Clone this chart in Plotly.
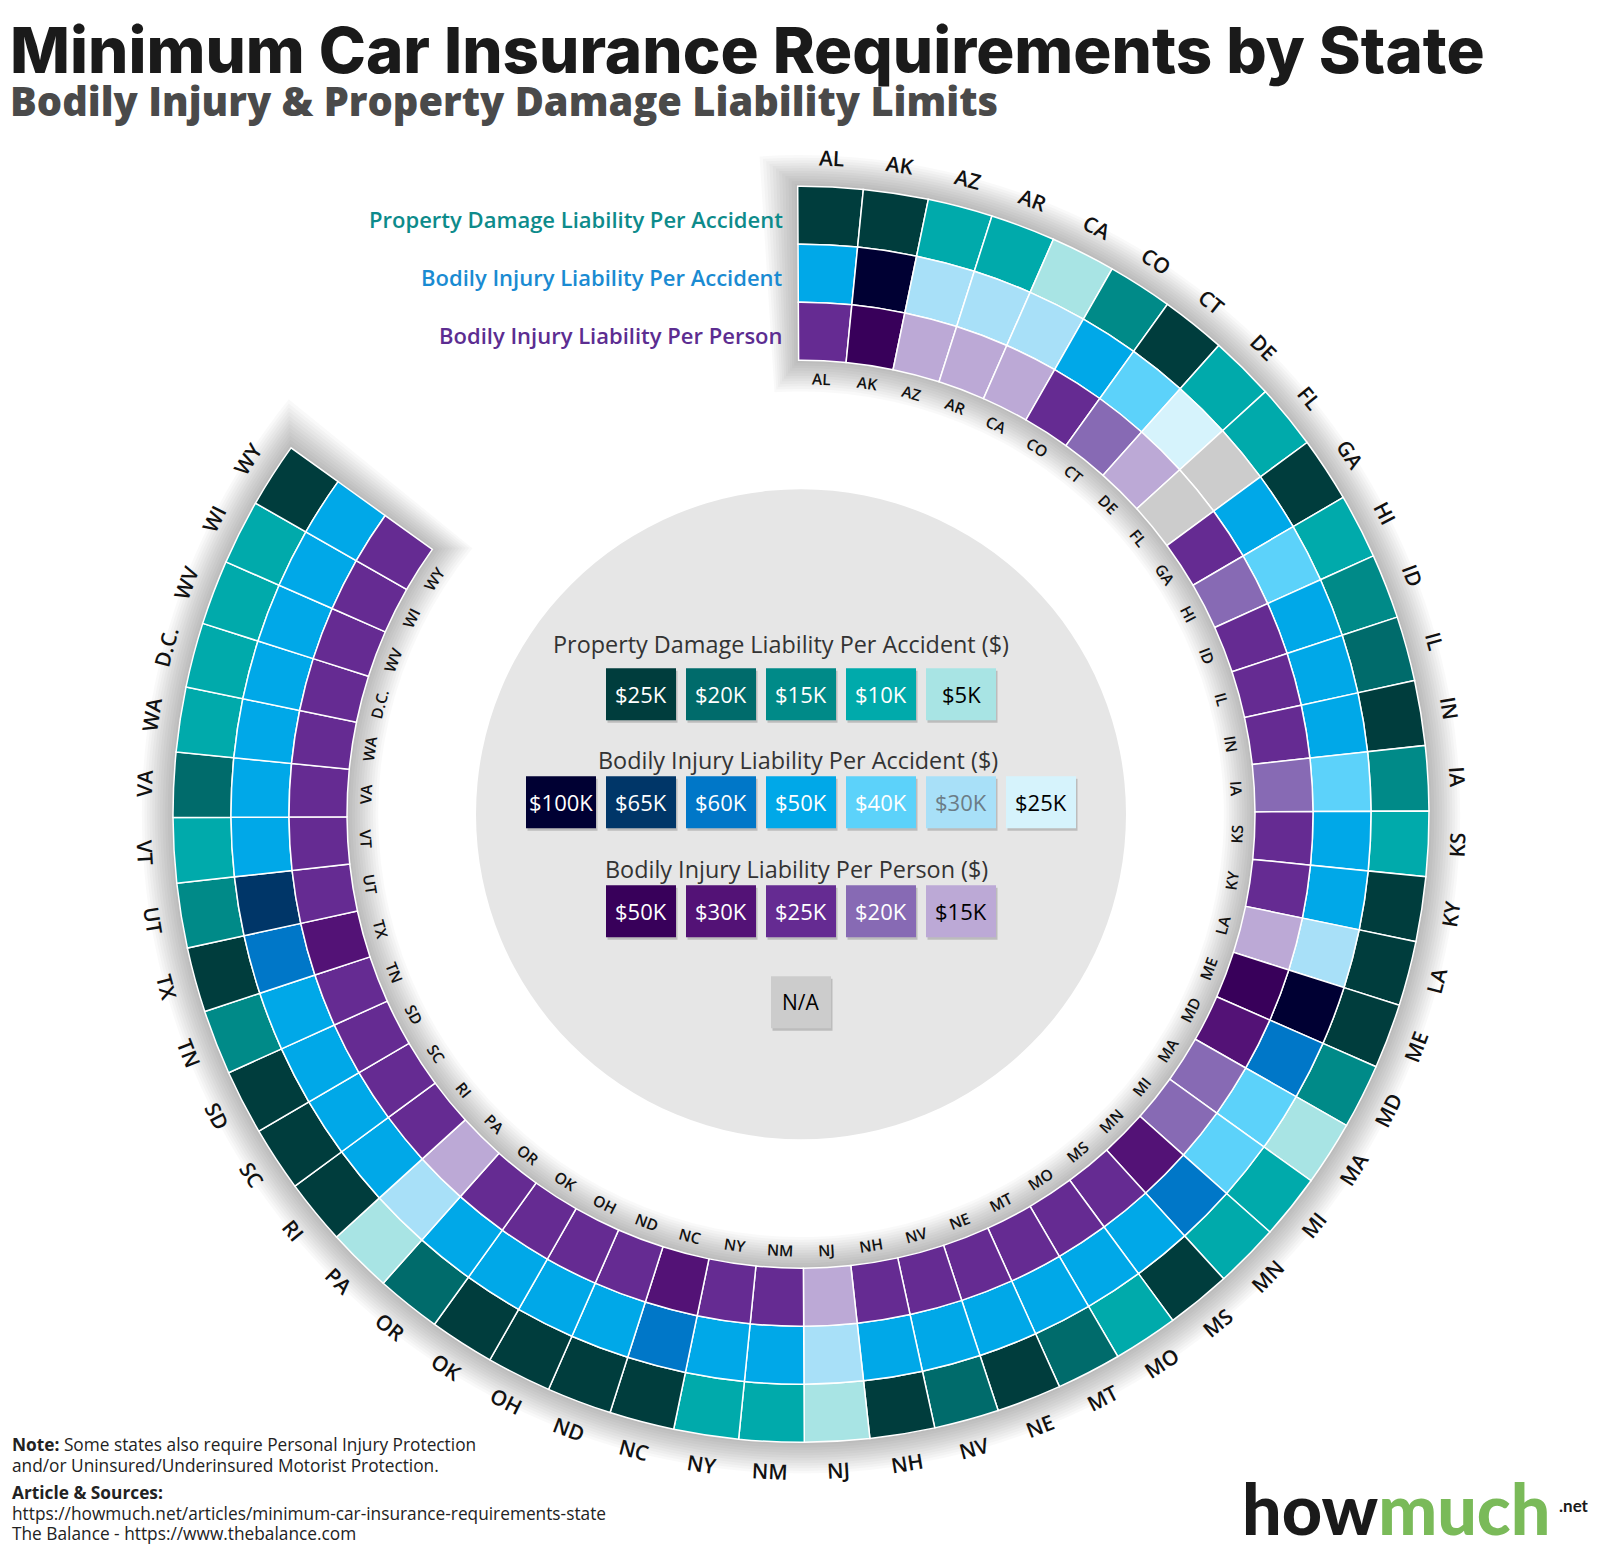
import math
import plotly.graph_objects as go

W, H = 1601, 1547
CX, CY = 793.0, 806.3          # pixel centre of the rings
R_MAX = 700                     # radial axis range -> 1 unit = 1 px

# ---------------- data ----------------
states = ["AL", "AK", "AZ", "AR", "CA", "CO", "CT", "DE", "FL", "GA", "HI", "ID", "IL",
          "IN", "IA", "KS", "KY", "LA", "ME", "MD", "MA", "MI", "MN", "MS", "MO", "MT",
          "NE", "NV", "NH", "NJ", "NM", "NY", "NC", "ND", "OH", "OK", "OR", "PA", "RI",
          "SC", "SD", "TN", "TX", "UT", "VT", "VA", "WA", "D.C.", "WV", "WI", "WY"]

# Property damage liability per accident ($K)
property_damage = [25, 25, 10, 10, 5, 15, 25, 10, 10, 25, 10, 15, 20, 25, 15, 10, 25,
                   25, 25, 15, 5, 10, 10, 25, 10, 20, 25, 20, 25, 5, 10, 10, 25, 25,
                   25, 25, 20, 5, 25, 25, 25, 15, 25, 15, 10, 20, 10, 10, 10, 10, 25]

# Bodily injury liability per accident ($K); None = N/A
bi_accident = [50, 100, 30, 30, 30, 50, 40, 25, None, 50, 40, 50, 50, 50, 40, 50, 50,
               30, 100, 60, 40, 40, 60, 50, 50, 50, 50, 50, 50, 30, 50, 50, 60, 50,
               50, 50, 50, 30, 50, 50, 50, 50, 60, 65, 50, 50, 50, 50, 50, 50, 50]

# Bodily injury liability per person ($K); None = N/A
bi_person = [25, 50, 15, 15, 15, 25, 20, 15, None, 25, 20, 25, 25, 25, 20, 25, 25,
             15, 50, 30, 20, 20, 30, 25, 25, 25, 25, 25, 25, 15, 25, 25, 30, 25,
             25, 25, 25, 15, 25, 25, 25, 25, 30, 25, 25, 25, 25, 25, 25, 25, 25]

pd_levels = [25, 20, 15, 10, 5]
pd_colors = ["#003d3d", "#006b6b", "#008a88", "#00aaab", "#a8e4e4"]
pd_text = ["white", "white", "white", "white", "black"]

acc_levels = [100, 65, 60, 50, 40, 30, 25]
acc_colors = ["#000033", "#003668", "#0077c8", "#00a8e8", "#5cd2fa", "#a8e0f8", "#d6f3fc"]
acc_text = ["white", "white", "white", "white", "white", "#6b7c86", "black"]

per_levels = [50, 30, 25, 20, 15]
per_colors = ["#38005a", "#531276", "#652b92", "#876ab4", "#bca9d6"]
per_text = ["white", "white", "white", "white", "black"]

NA_COLOR = "#cccccc"

ring_titles = ["Property Damage Liability Per Accident",
               "Bodily Injury Liability Per Accident",
               "Bodily Injury Liability Per Person"]
ring_title_colors = ["#0d8b8b", "#1a8bd2", "#5c2d91"]

legend_titles = ["Property Damage Liability Per Accident ($)",
                 "Bodily Injury Liability Per Accident ($)",
                 "Bodily Injury Liability Per Person ($)"]

title = "Minimum Car Insurance Requirements by State"
subtitle = "Bodily Injury & Property Damage Liability Limits"

# ---------------- geometry ----------------
START = -0.3
STEP = 6.0
R_IN = 454
RING_W = 58
FONT = "Open Sans"

n = len(states)
thetas = [START + STEP * (i + 0.5) for i in range(n)]


def col(levels, colors, v):
    return NA_COLOR if v is None else colors[levels.index(v)]


fig = go.Figure()

# grey disc in the centre
fig.add_trace(go.Barpolar(r=[325], theta=[0], width=[360], base=[0],
                          marker=dict(color="#e6e6e6", line=dict(width=0)),
                          hoverinfo="skip", showlegend=False))

# soft shadow around the ring band
arc_mid = START + STEP * n / 2
for k in range(1, 13):
    d = 2.6 * k
    ext = math.degrees(d / 540)
    fig.add_trace(go.Barpolar(r=[3 * RING_W + 2 * d], theta=[arc_mid],
                              width=[STEP * n + 2 * ext], base=[R_IN - d],
                              marker=dict(color="rgba(0,0,0,0.022)", line=dict(width=0)),
                              hoverinfo="skip", showlegend=False))

rings = [
    (property_damage, pd_levels, pd_colors, 2),
    (bi_accident, acc_levels, acc_colors, 1),
    (bi_person, per_levels, per_colors, 0),
]
for vals, levels, colors, idx in rings:
    fig.add_trace(go.Barpolar(
        r=[RING_W] * n, theta=thetas, width=[STEP] * n,
        base=[R_IN + idx * RING_W] * n,
        marker=dict(color=[col(levels, colors, v) for v in vals],
                    line=dict(color="white", width=1.5)),
        text=states, hoverinfo="text", showlegend=False))

ann = []


def to_paper(r, th):
    t = math.radians(th)
    return (CX + r * math.sin(t)) / W, 1 - (CY - r * math.cos(t)) / H


def rot(th):
    if 90 < th < 270:
        return th - 180
    return th if th <= 180 else th - 360


for s, th in zip(states, thetas):
    x, y = to_paper(657, th)
    ann.append(dict(x=x, y=y, text=s, textangle=rot(th), showarrow=False,
                    xanchor="center", yanchor="middle",
                    font=dict(family=FONT, size=21, color="#111111", weight=600)))
    x, y = to_paper(436, th)
    ann.append(dict(x=x, y=y, text=s, textangle=rot(th), showarrow=False,
                    xanchor="center", yanchor="middle",
                    font=dict(family=FONT, size=15.5, color="#111111", weight=600)))

# ring titles at top-left
for i, (t, c) in enumerate(zip(ring_titles, ring_title_colors)):
    ymid = CY - (R_IN + (2 - i) * RING_W + RING_W / 2) + 4
    ann.append(dict(x=(CX - 16) / W, y=1 - ymid / H, text=t, showarrow=False,
                    xanchor="right", yanchor="middle",
                    font=dict(family=FONT, size=22, color=c, weight=600)))

# legend inside grey disc
shapes = []
BW, BH = 70, 52
LX = CX
rows = [
    (CY - 170, CY - 120, -20, pd_levels, pd_colors, pd_text),
    (CY - 54, CY - 12, -3, acc_levels, acc_colors, acc_text),
    (CY + 55, CY + 97, -5, per_levels, per_colors, per_text),
]
for (ty, by, dx, levels, colors, tcols), ttl in zip(rows, legend_titles):
    ann.append(dict(x=(LX + dx) / W, y=1 - ty / H, text=ttl, showarrow=False,
                    xanchor="center", yanchor="middle",
                    font=dict(family=FONT, size=23.4, color="#333333", weight=500)))
    m = len(levels)
    for j, (lv, c, tc) in enumerate(zip(levels, colors, tcols)):
        xc = LX + 80 * (j - (m - 1) / 2)
        shapes.append(dict(type="rect", xref="paper", yref="paper",
                           x0=(xc - BW / 2 + 1.5) / W, x1=(xc + BW / 2 + 1.5) / W,
                           y0=1 - (by + BH / 2 + 2.5) / H, y1=1 - (by - BH / 2 + 2.5) / H,
                           fillcolor="rgba(0,0,0,0.18)", line=dict(width=0)))
        shapes.append(dict(type="rect", xref="paper", yref="paper",
                           x0=(xc - BW / 2) / W, x1=(xc + BW / 2) / W,
                           y0=1 - (by + BH / 2) / H, y1=1 - (by - BH / 2) / H,
                           fillcolor=c, line=dict(width=0)))
        ann.append(dict(x=xc / W, y=1 - by / H, text=f"${lv}K", showarrow=False,
                        xanchor="center", yanchor="middle",
                        font=dict(family=FONT, size=22, color=tc, weight=500)))

# N/A box
nax, nay = LX, CY + 188
shapes.append(dict(type="rect", xref="paper", yref="paper",
                   x0=(nax - 30 + 1.5) / W, x1=(nax + 30 + 1.5) / W,
                   y0=1 - (nay + 26 + 2.5) / H, y1=1 - (nay - 26 + 2.5) / H,
                   fillcolor="rgba(0,0,0,0.18)", line=dict(width=0)))
shapes.append(dict(type="rect", xref="paper", yref="paper",
                   x0=(nax - 30) / W, x1=(nax + 30) / W,
                   y0=1 - (nay + 26) / H, y1=1 - (nay - 26) / H,
                   fillcolor=NA_COLOR, line=dict(width=0)))
ann.append(dict(x=nax / W, y=1 - nay / H, text="N/A", showarrow=False,
                xanchor="center", yanchor="middle",
                font=dict(family=FONT, size=21, color="black", weight=500)))

# title & subtitle
ann.append(dict(x=0, y=1 - 41 / H, xanchor="left", yanchor="middle",
                showarrow=False, text=title,
                font=dict(family="Inter", size=63.6, color="#1a1a1a", weight=800)))
ann.append(dict(x=0, y=1 - 92 / H, xanchor="left", yanchor="middle",
                showarrow=False, text=subtitle,
                font=dict(family=FONT, size=39.8, color="#4a4a4a", weight=800)))

# footer
foot = [
    (1436, "<b>Note:</b> Some states also require Personal Injury Protection"),
    (1457, "and/or Uninsured/Underinsured Motorist Protection."),
    (1484, "<b>Article & Sources:</b>"),
    (1505, "https://howmuch.net/articles/minimum-car-insurance-requirements-state"),
    (1525, "The Balance - https://www.thebalance.com"),
]
for yy, t in foot:
    ann.append(dict(x=2 / W, y=1 - yy / H, text=t, showarrow=False,
                    xanchor="left", yanchor="middle",
                    font=dict(family=FONT, size=17.3, color="#222222")))

# logo
ann.append(dict(x=1232 / W, y=1 - 1500 / H,
                text="how<span style='color:#7aba59'>much</span>",
                showarrow=False, xanchor="left", yanchor="middle",
                font=dict(family="Lato", size=70, color="#1a1a1a", weight=900)))
ann.append(dict(x=1549 / W, y=1 - 1497 / H, text=".net", showarrow=False,
                xanchor="left", yanchor="middle",
                font=dict(family="Lato", size=17, color="#1a1a1a", weight=700)))

fig.update_layout(
    width=W, height=H,
    margin=dict(l=0, r=0, t=0, b=0),
    paper_bgcolor="white", plot_bgcolor="white",
    showlegend=False,
    polar=dict(
        domain=dict(x=[(CX - R_MAX) / W, (CX + R_MAX) / W],
                    y=[(H - CY - R_MAX) / H, (H - CY + R_MAX) / H]),
        bgcolor="rgba(0,0,0,0)",
        bargap=0,
        radialaxis=dict(range=[0, R_MAX], visible=False, showgrid=False),
        angularaxis=dict(rotation=90, direction="clockwise", visible=False,
                         showgrid=False),
    ),
    annotations=ann,
    shapes=shapes,
)

fig.write_html("out.html")
